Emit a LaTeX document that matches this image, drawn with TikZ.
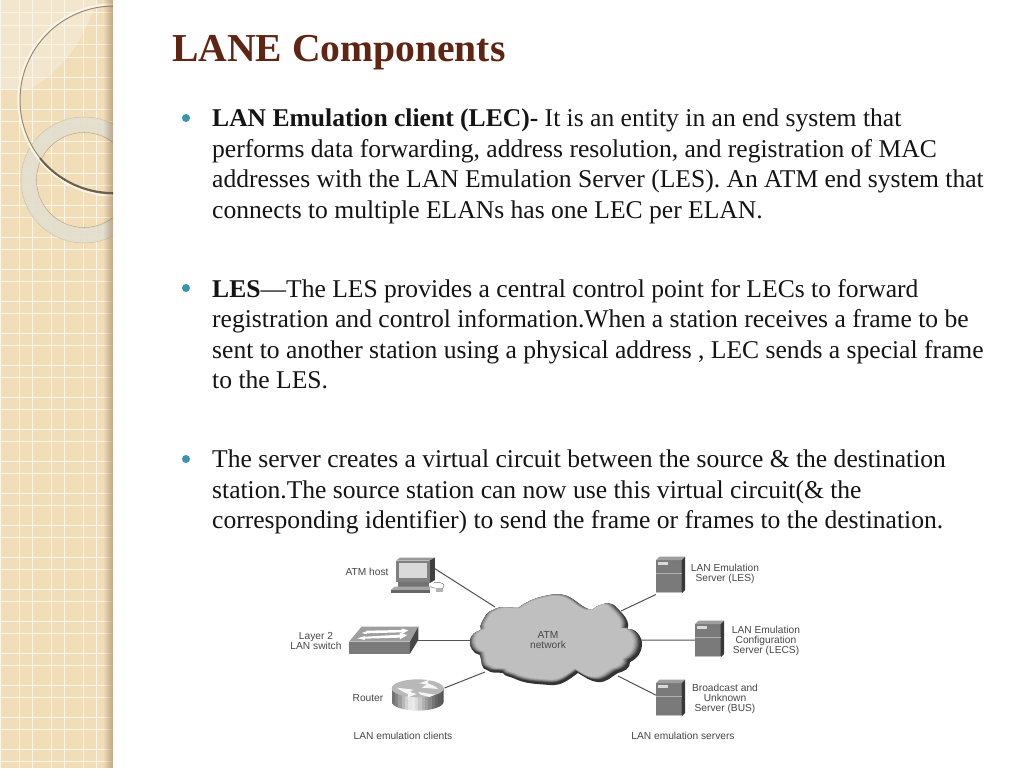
\documentclass[tikz,border=0pt]{standalone}
\usepackage{fontspec}
\setmainfont{Liberation Serif}
\newfontfamily\labelfont{Liberation Sans}
\definecolor{panel}{HTML}{F1DEB9}
\definecolor{panellight}{HTML}{F2E6CF}
\definecolor{gridline}{HTML}{FBF5E6}
\definecolor{titlecol}{HTML}{5F2412}
\definecolor{bulletcol}{HTML}{3A93B0}
\definecolor{ringcol}{HTML}{E3DED0}
\definecolor{ringedge}{HTML}{BFAE8E}
\newcommand{\cloudshape}{(550,595)
  to[out=10,in=150] (571,598) to[out=-30,in=170] (592,610)
  to[out=40,in=125] (617,608) to[out=-45,in=65] (627,630)
  to[out=25,in=85] (642,645) to[out=-95,in=25] (630,662)
  to[out=-85,in=15] (618,673) to[out=-150,in=-5] (598,682)
  to[out=175,in=-30] (578,673) to[out=-145,in=-5] (550,685)
  to[out=175,in=-25] (513,678) to[out=155,in=-60] (503,673)
  to[out=170,in=-40] (487,670) to[out=175,in=-70] (480,655)
  to[out=170,in=-100] (470,640) to[out=80,in=200] (481,630)
  to[out=115,in=-120] (482,622) to[out=60,in=195] (493,610)
  to[out=30,in=180] (518,608) to[out=35,in=190] (550,595) -- cycle}
\newcommand{\serverdraw}[3]{%
  \begin{scope}[shift={(#1,#2)},x=0.3333pt,y=-0.3333pt]
    \fill[black!52] (0,0) rectangle (77,100);
    \fill[black!78] (77,0) -- (87,-10) -- (87,90) -- (77,100) -- cycle;
    \fill[black!38] (0,0) -- (10,-10) -- (87,-10) -- (77,0) -- cycle;
    \fill[black!15] (5,7) rectangle (37,15);
    \fill[black!32] (0,39) rectangle (77,41);
    \fill[black!25] (0,95) rectangle (77,100);
    \node[devbox,minimum width=29pt,minimum height=37pt] (#3) at (43,48) {};
  \end{scope}}
\tikzset{
  devbox/.style={inner sep=0pt,outer sep=0pt},
  devtext/.style={font=\labelfont\fontsize{10.2}{9.7}\selectfont,text=black!72,align=center,inner sep=0pt},
  bodytext/.style={anchor=north west,inner sep=0pt,align=left,font=\fontsize{25.58}{30.55}\selectfont,text=black!92},
  bulletdot/.style={circle,fill=bulletcol,inner sep=0pt,minimum size=8pt},
  link/.style={draw=black!68,line width=1pt}
}
\begin{document}
\begin{tikzpicture}[x=1pt,y=-1pt]
\useasboundingbox (0,0) rectangle (1024,768);
\fill[white] (0,0) rectangle (1024,768);
% side panel
\begin{scope}
  \clip (0,0) rectangle (113,768);
  \fill[panel] (0,0) rectangle (113,768);
  \fill[panellight] (0,0) -- (0,89) -- (30,89) .. controls (60,72) and (82,45) .. (97,0) -- cycle;
  \foreach \k in {0,...,24}{
    \fill[gridline] (0,{12.5+32*\k}) rectangle (113,{13.5+32*\k});
    \fill[gridline] (0,{25+32*\k}) rectangle (113,{26+32*\k});
  }
  \foreach \k in {0,...,3}{
    \fill[gridline] ({19+32*\k},0) rectangle ({20+32*\k},768);
    \fill[gridline] ({32*\k},0) rectangle ({1+32*\k},768);
  }
  % ring
  \fill[ringcol,opacity=.88,even odd rule] (84,180) circle[radius=63] (84,180) circle[radius=47.5];
  \draw[ringedge,line width=.6pt] (84,180) circle[radius=47.5];
  \draw[ringedge!70,line width=.6pt] (84,180) circle[radius=63];
  % large circle
  \draw[gridline,line width=2.4pt] (114,100) circle[radius=95.5];
  \draw[black!20!ringedge,line width=1pt] (114,100) circle[radius=94];
  \draw[black!45!ringedge,line width=2pt] (40,158.2) arc[start angle=141,end angle=90,radius=94];
  % edge shadow
  \foreach \k in {0,...,8}{
    \fill[brown!60!black,opacity=.045] ({104+\k},0) rectangle (113,768);
  }
\end{scope}
% title
\node[anchor=base west,inner sep=0pt,font=\fontsize{39.6}{44}\selectfont\bfseries,text=titlecol] (title) at (172,61) {LANE Components};
% text
\node[bulletdot] (b1) at (186,118) {};
\node[bodytext] (p1) at (212,108.5) {\textbf{LAN Emulation client (LEC)-} It is an entity in an end system that\\
performs data forwarding, address resolution, and registration of MAC\\
addresses with the LAN Emulation Server (LES). An ATM end system that\\
connects to multiple ELANs has one LEC per ELAN.};
\node[bulletdot] (b2) at (186,288) {};
\node[bodytext] (p2) at (212,279) {\textbf{LES}—The LES provides a central control point for LECs to forward\\
registration and control information.When a station receives a frame to be\\
sent to another station using a physical address , LEC sends a special frame\\
to the LES.};
\node[bulletdot] (b3) at (186,459) {};
\node[bodytext] (p3) at (212,449.5) {The server creates a virtual circuit between the source \& the destination\\
station.The source station can now use this virtual circuit(\& the\\
corresponding identifier) to send the frame or frames to the destination.};
% device anchors
\node[devbox,minimum width=46pt,minimum height=37pt] (host) at (412,572) {};
\node[devbox,minimum width=70pt,minimum height=27pt] (switch) at (383,640) {};
\node[devbox,minimum width=53pt,minimum height=32pt] (router) at (418,698) {};
\node[devbox,minimum size=1pt] (cloud) at (556,640) {};
\coordinate (cloudnw) at (495,607);
\coordinate (cloudw) at (470,640);
\coordinate (cloudsw) at (485,672);
\coordinate (cloudne) at (621,611);
\coordinate (cloude) at (641,640);
\coordinate (cloudse) at (618,676);
% clients
\begin{scope}[shift={(270,545)},x=0.3333pt,y=-0.3333pt]
  % monitor
  \fill[black!40] (378,47) -- (390,38) -- (495,38) -- (478,47) -- cycle;
  \fill[black!50] (378,47) rectangle (478,110);
  \fill[black!75] (478,47) -- (495,38) -- (495,105) -- (478,115) -- cycle;
  \fill[black!15] (388,55) rectangle (470,100);
  \fill[black!55] (385,110) rectangle (478,125);
  \fill[black!35] (375,125) -- (480,125) -- (480,135) -- (362,135) -- cycle;
  \fill[black!60] (362,135) rectangle (480,145);
  \fill[black!30] (497,128) rectangle (518,141);
  \draw[black!55,line width=.5pt] (480,125) -- (497,130) (518,130) .. controls (528,120) and (520,110) .. (492,112);
  % switch
  \fill[black!38] (275,245) -- (445,245) -- (420,290) -- (237,290) -- cycle;
  \fill[black!52] (237,290) rectangle (420,326);
  \fill[black!72] (420,290) -- (445,245) -- (445,285) -- (420,326) -- cycle;
  \fill[white] (290,259) -- (275,264) -- (290,268) -- (290,265) -- (395,262) -- (395,268) -- (415,256) -- (395,250) -- (395,255) -- (290,257) -- cycle;
  \fill[white] (285,273) -- (262,280) -- (285,285) -- (285,281) -- (390,278) -- (390,283) -- (412,270) -- (390,264) -- (390,269) -- (285,275) -- cycle;
  % router
  \begin{scope}
    \clip (365,430) -- (365,470) arc[start angle=180,end angle=0,x radius=78,y radius=27] -- (521,430) -- cycle;
    \foreach \k/\g in {365/55,375/48,385/38,395/28,405/18,415/10,425/8,435/14,445/22,455/30,465/38,475/46,485/54,495/60,505/64,515/68}{
      \fill[black!\g] (\k,420) rectangle ({\k+10.5},500);
    }
  \end{scope}
  \fill[black!28] (443,430) ellipse[x radius=78,y radius=27];
  \fill[white!92!gray] (380,428) -- (430,434) -- (420,441) -- (440,447) -- (412,458) -- (415,448) -- (395,438) -- cycle;
  \fill[white!92!gray] (505,432) -- (455,428) -- (470,418) -- (448,415) -- (478,404) -- (472,414) -- (495,424) -- cycle;
  \fill[white!92!gray] (445,441) -- (495,449) -- (478,456) -- (452,449) -- cycle;
\end{scope}
% cloud
\fill[black!80] \cloudshape;
\foreach \s/\g in {0.99/70,0.975/58,0.96/46,0.945/36,0.93/29,0.915/25}{
  \begin{scope}
    \clip \cloudshape;
    \begin{scope}[shift={(553,638)},scale=\s,shift={(-554.5,-640)}]
      \fill[black!\g] \cloudshape;
    \end{scope}
  \end{scope}
}
% servers
\serverdraw{656}{560}{les}
\serverdraw{695}{624}{lecs}
\serverdraw{656}{683}{bus}
% connectors
\draw[link] (host.8) -- (cloudnw);
\draw[link] (switch.east) -- (cloudw);
\draw[link] (router.east) ++(0,-10) coordinate (routerport) (routerport) -- (cloudsw);
\draw[link] (les.south west) -- (cloudne);
\draw[link] (lecs.west) -- (cloude);
\draw[link] (bus.165) -- (cloudse);
% labels
\node[devtext] (lbhost) at (367,572) {ATM host};
\node[devtext] (lbswitch) at (316,641) {Layer 2\\LAN switch};
\node[devtext] (lbrouter) at (368,698) {Router};
\node[devtext] (lbclients) at (403,736) {LAN emulation clients};
\node[devtext] (lbcloud) at (548,640) {ATM\\network};
\node[devtext] (lbles) at (725,574) {LAN Emulation\\Server (LES)};
\node[devtext] (lblecs) at (766,641) {LAN Emulation\\Configuration\\Server (LECS)};
\node[devtext] (lbbus) at (725,699) {Broadcast and\\Unknown\\Server (BUS)};
\node[devtext] (lbservers) at (683,736) {LAN emulation servers};
\end{tikzpicture}
\end{document}
